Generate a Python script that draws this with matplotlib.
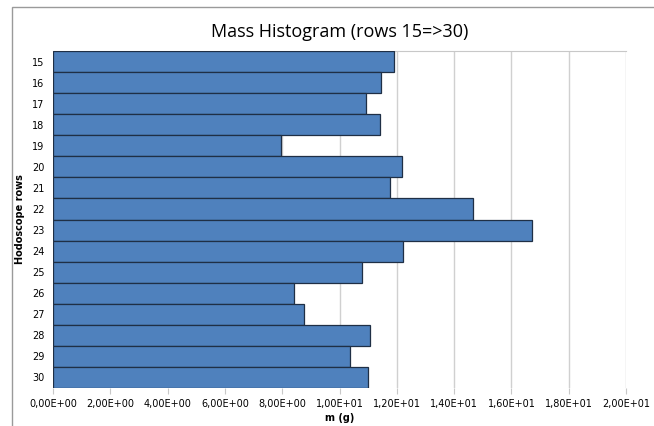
import matplotlib

matplotlib.use("Agg")
import matplotlib.pyplot as plt
from matplotlib.patches import Rectangle
from matplotlib.ticker import FuncFormatter, MultipleLocator

rows = list(range(15, 31))
mass = [11.91, 11.44, 10.94, 11.43, 7.97, 12.18, 11.75, 14.66,
        16.71, 12.20, 10.77, 8.40, 8.76, 11.06, 10.38, 11.00]

plt.rcParams["font.family"] = ["Liberation Sans Narrow", "DejaVu Sans"]

fig = plt.figure(figsize=(6.54, 4.26), dpi=100)
# outer chart frame like the spreadsheet export
fig.patches.append(Rectangle((12 / 654, -0.1), 1.2, (426 - 7) / 426 + 0.1,
                             transform=fig.transFigure, fill=False,
                             edgecolor="#9a9a9a", linewidth=1.0))
ax = fig.add_axes([53 / 654, 38 / 426, 573 / 654, 337 / 426])

ax.barh(rows, mass, height=1.0, color="#4f81bd", edgecolor="#1f2f45",
        linewidth=0.9, zorder=3)
ax.set_ylim(30.5, 14.5)
ax.set_xlim(0, 20)
ax.xaxis.set_major_locator(MultipleLocator(2))
ax.xaxis.set_major_formatter(
    FuncFormatter(lambda v, _: f"{v:.2E}".replace(".", ",")))
ax.set_yticks(rows)
ax.grid(axis="x", color="#d0d0d0", linewidth=1.0, zorder=0)

for side in ("left", "right", "bottom"):
    ax.spines[side].set_visible(False)
ax.spines["top"].set_color("#c8c8c8")
ax.tick_params(axis="x", length=4, color="#c8c8c8", labelsize=7, pad=4)
ax.tick_params(axis="y", length=0, labelsize=7, pad=6)

ax.set_xlabel("m (g)", fontsize=7, fontweight="bold", labelpad=3)
ax.set_ylabel("Hodoscope rows", fontsize=7, fontweight="bold", labelpad=5)
ax.set_title("Mass Histogram (rows 15=>30)", fontsize=13, pad=10,
             family=["Open Sans", "DejaVu Sans"])

fig.savefig("out.png", dpi=100)
